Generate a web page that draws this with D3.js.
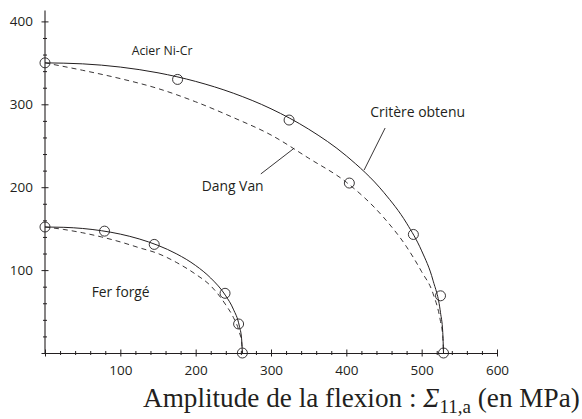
<!DOCTYPE html>
<html><head><meta charset="utf-8">
<script src="https://cdn.jsdelivr.net/npm/d3@7"></script>
<style>body{margin:0;background:#fff}svg{display:block}</style>
</head><body>
<svg id="c" width="582" height="419"></svg>
<script>
// ---- data ----
const xTickLabels = [100, 200, 300, 400, 500, 600];
const yTickLabels = [100, 200, 300, 400];
// Acier Ni-Cr
const acierPoints = [[0,350],[176,330],[324,281],[404,205],[489,143],[525,69],[529,0]];
const acierCritere = [[0,350],[50,348.8],[100,344.9],[150,338],[200,327.6],[250,313.4],[300,294.6],[350,270],[400,237.8],[450,193.4],[480,156.6],[500,123.2],[515,87.8],[525,48.6],[528,25],[529,0]];
const acierDangVan = [[0,350],[50,341],[100,331],[150,319],[200,303],[250,284],[300,263],[350,235],[400,206],[450,163],[480,128],[500,98],[515,72],[525,38],[528,20],[529,0]];
// Fer forgé
const ferPoints = [[0,152],[79,147],[145,131],[239,72],[257,35],[262,0]];
const ferCritere = [[0,152],[25,151.6],[50,150.2],[75,147.5],[100,143.4],[125,137.6],[150,129.8],[175,119.4],[200,105.5],[220,90.4],[240,68.9],[250,52.9],[258,32.4],[261,17],[262,0]];
const ferDangVan = [[0,152],[25,149],[50,145],[75,140],[100,134],[125,127],[150,120],[175,109],[200,95],[220,81],[240,58],[250,43],[258,25],[261,13],[262,0]];
// annotations (data coordinates)
const labels = [
  {text:"Acier Ni-Cr", x:115, y:359.5, w:61},
  {text:"Critère obtenu", x:431.6, y:284.7, w:95},
  {text:"Dang Van", x:208, y:195.4, w:62},
  {text:"Fer forgé", x:62, y:67.5, w:58}
];
const leaders = [
  [[451.5,271.4],[423.6,220.7]],
  [[286.5,216],[330.7,247]]
];

// ---- drawing ----
const ink = "#231f20";
const svg = d3.select("#c");
const x = d3.scaleLinear().domain([0,600]).range([45,497]);
const y = d3.scaleLinear().domain([0,400]).range([353,21.4]);
const sans = "'Open Sans', 'Noto Sans', sans-serif";

function crossTicks(g, horizontal, size){
  g.selectAll(".tick line").attr(horizontal ? "y1" : "x1", -size).attr(horizontal ? "y2" : "x2", size)
   .attr("stroke", ink).attr("stroke-width", 1);
}
const minorX = d3.range(0, 601, 20).filter(v => v % 100 !== 0);
const minorY = d3.range(0, 401, 20).filter(v => v % 100 !== 0);

// x axis
const gxMinor = svg.append("g").attr("transform", `translate(0,${y(0)})`)
  .call(d3.axisBottom(x).tickValues(minorX).tickSize(2).tickSizeOuter(0).tickFormat(""));
gxMinor.select(".domain").remove(); crossTicks(gxMinor, true, 2);
const gx = svg.append("g").attr("transform", `translate(0,${y(0)})`)
  .call(d3.axisBottom(x).tickValues([0, ...xTickLabels]).tickSize(3.5).tickSizeOuter(0)
    .tickFormat(d => d === 0 ? "" : d));
gx.select(".domain").attr("stroke", ink).attr("stroke-width", 1.1);
crossTicks(gx, true, 3.5);
gx.selectAll(".tick text").attr("y", 22).attr("dy", null).attr("fill", ink)
  .style("font-family", sans).style("font-size", "13.5px");

// y axis
const gyMinor = svg.append("g").attr("transform", `translate(${x(0)},0)`)
  .call(d3.axisLeft(y).tickValues(minorY).tickSize(2).tickSizeOuter(0).tickFormat(""));
gyMinor.select(".domain").remove(); crossTicks(gyMinor, false, 2);
const gy = svg.append("g").attr("transform", `translate(${x(0)},0)`)
  .call(d3.axisLeft(y).tickValues([0, ...yTickLabels]).tickSize(3.5).tickSizeOuter(0)
    .tickFormat(d => d === 0 ? "" : d));
gy.select(".domain").remove();
crossTicks(gy, false, 3.5);
gy.selectAll(".tick text").attr("x", -12).attr("fill", ink)
  .style("font-family", sans).style("font-size", "13.5px");
svg.append("line").attr("x1", x(0)).attr("x2", x(0)).attr("y1", y(0)).attr("y2", y(413))
  .attr("stroke", ink).attr("stroke-width", 1.1);

// curves
const line = d3.line().x(d => x(d[0])).y(d => y(d[1])).curve(d3.curveMonotoneX);
[[acierCritere,false],[acierDangVan,true],[ferCritere,false],[ferDangVan,true]].forEach(([data,dash]) => {
  svg.append("path").datum(data).attr("d", line).attr("fill", "none").attr("stroke", ink)
    .attr("stroke-width", dash ? 0.9 : 1).attr("stroke-dasharray", dash ? "5,4" : null);
});

// points
[acierPoints, ferPoints].forEach(pts => {
  svg.append("g").selectAll("circle").data(pts).join("circle")
    .attr("cx", d => x(d[0])).attr("cy", d => y(d[1])).attr("r", 5)
    .attr("fill", "none").attr("stroke", ink).attr("stroke-width", 0.9);
});

// leaders
leaders.forEach(l => {
  svg.append("line").attr("x1", x(l[0][0])).attr("y1", y(l[0][1]))
    .attr("x2", x(l[1][0])).attr("y2", y(l[1][1])).attr("stroke", ink).attr("stroke-width", 0.9);
});

// labels
labels.forEach(L => {
  const t = svg.append("text").attr("x", x(L.x)).attr("y", y(L.y)).attr("fill", ink)
    .style("font-family", sans).style("font-size", "13px").text(L.text);
  const w = t.node().getComputedTextLength();
  t.style("font-size", (13 * L.w / w) + "px");
});

// x axis title
const title = svg.append("text").attr("x", 143).attr("y", 407).attr("fill", ink)
  .style("font-family", "'Liberation Serif', 'DejaVu Serif', serif").style("font-size", "20px");
title.append("tspan").text("Amplitude de la flexion : ");
title.append("tspan").style("font-style", "italic").text("Σ");
title.append("tspan").attr("dy", "0.3em").style("font-size", "70%").text("11,a");
title.append("tspan").attr("dy", "-0.21em").text(" (en MPa)");
const tw = title.node().getComputedTextLength();
title.style("font-size", (20 * 437 / tw) + "px");
</script>
</body></html>
